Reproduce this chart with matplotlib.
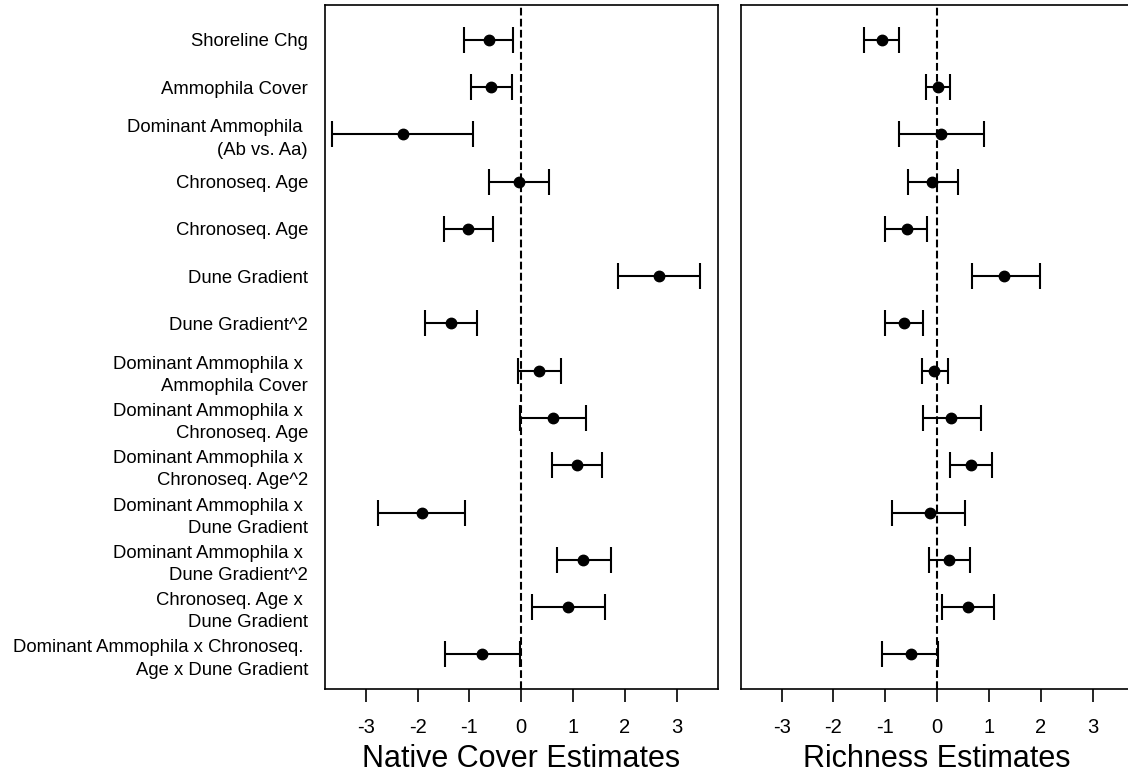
import matplotlib.pyplot as plt
import numpy as np

plt.rcParams['font.family'] = ['Liberation Sans', 'DejaVu Sans']

terms = ["Shoreline Chg",
         "Ammophila Cover",
         "Dominant Ammophila \n(Ab vs. Aa)",
         "Chronoseq. Age",
         "Chronoseq. Age",
         "Dune Gradient",
         "Dune Gradient^2",
         "Dominant Ammophila x \nAmmophila Cover",
         "Dominant Ammophila x \nChronoseq. Age",
         "Dominant Ammophila x \nChronoseq. Age^2",
         "Dominant Ammophila x \nDune Gradient",
         "Dominant Ammophila x \nDune Gradient^2",
         "Chronoseq. Age x \nDune Gradient",
         "Dominant Ammophila x Chronoseq. \nAge x Dune Gradient"]

# native cover model
cover_est = [-0.63, -0.58, -2.29, -0.04, -1.02, 2.65, -1.35, 0.34, 0.61, 1.07, -1.92, 1.20, 0.91, -0.75]
cover_lo = [-1.10, -0.97, -3.65, -0.62, -1.49, 1.86, -1.86, -0.07, -0.02, 0.59, -2.76, 0.68, 0.20, -1.48]
cover_hi = [-0.15, -0.18, -0.94, 0.53, -0.54, 3.45, -0.86, 0.76, 1.25, 1.56, -1.08, 1.73, 1.62, -0.02]

# richness model
rich_est = [-1.07, 0.02, 0.08, -0.10, -0.59, 1.29, -0.63, -0.06, 0.27, 0.65, -0.13, 0.23, 0.59, -0.51]
rich_lo = [-1.41, -0.22, -0.74, -0.57, -1.01, 0.68, -1.01, -0.30, -0.28, 0.24, -0.88, -0.15, 0.09, -1.06]
rich_hi = [-0.73, 0.25, 0.91, 0.41, -0.20, 1.98, -0.28, 0.20, 0.84, 1.06, 0.54, 0.63, 1.09, 0.01]

xticks = [-3, -2, -1, 0, 1, 2, 3]

fig = plt.figure(figsize=(11.28, 7.77), dpi=100)
ax1 = fig.add_axes([0.2879, 0.1129, 0.3484, 0.8807])
ax2 = fig.add_axes([0.6566, 0.1129, 0.3484, 0.8807])

ypos = np.arange(1, len(terms) + 1)


def draw_panel(ax, est, lo, hi, xlabel):
    est = np.array(est)
    err = np.vstack([est - np.array(lo), np.array(hi) - est])
    ax.axvline(0, color='black', ls='--', lw=1.5, zorder=1)
    ax.errorbar(est, ypos, xerr=err, fmt='o', color='black', ms=7.5,
                elinewidth=1.5, capsize=9.5, capthick=1.5, zorder=3)
    ax.set_xlim(-3.79, 3.79)
    ax.set_ylim(14.74, 0.26)
    ax.set_xticks(xticks)
    ax.set_xticklabels([str(t) for t in xticks], fontsize=14.5)
    ax.tick_params(axis='x', length=9, width=1.2, pad=12)
    ax.set_xlabel(xlabel, fontsize=22, labelpad=5)
    for s in ax.spines.values():
        s.set_linewidth(1.2)


draw_panel(ax1, cover_est, cover_lo, cover_hi, "Native Cover Estimates")
draw_panel(ax2, rich_est, rich_lo, rich_hi, "Richness Estimates")

ax1.set_yticks(ypos)
ax1.set_yticklabels(terms, fontsize=13.3, linespacing=1.4)
ax1.tick_params(axis='y', length=0, pad=12)
ax2.set_yticks([])

fig.savefig("out.png", dpi=100)
